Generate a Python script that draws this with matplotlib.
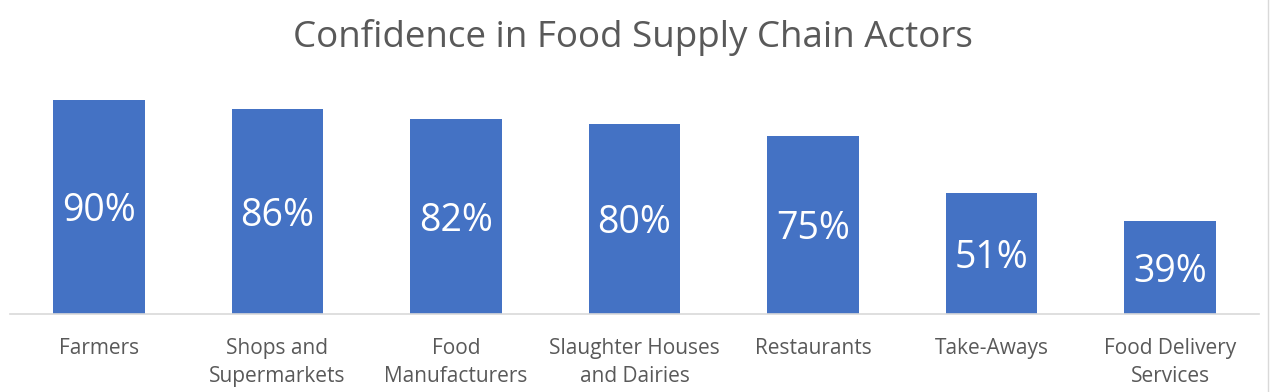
import matplotlib.pyplot as plt
from matplotlib.lines import Line2D

# Data
categories = ["Farmers", "Shops and\nSupermarkets", "Food\nManufacturers",
              "Slaughter Houses\nand Dairies", "Restaurants", "Take-Aways",
              "Food Delivery\nServices"]
confidence = [90, 86, 82, 80, 75, 51, 39]
value_labels = ["90%", "86%", "82%", "80%", "75%", "51%", "39%"]

bar_color = "#4472C4"
text_color = "#595959"

plt.rcParams["font.family"] = ["Open Sans", "DejaVu Sans"]

fig = plt.figure(figsize=(12.74, 3.92), dpi=100)
ax = fig.add_axes([9.75 / 1274, 78 / 392, 1249.5 / 1274, 237 / 392])

x = range(len(categories))
bars = ax.bar(x, confidence, width=0.515, color=bar_color)

for b, lab in zip(bars, value_labels):
    ax.text(b.get_x() + b.get_width() / 2, b.get_height() / 2 - 1.9, lab,
            ha="center", va="center", color="white", fontsize=27)

ax.set_xlim(-0.5, len(categories) - 0.5)
ax.set_ylim(0, 99.6)
ax.set_xticks(list(x))
ax.set_xticklabels(categories, fontsize=15, color=text_color, linespacing=1.45)
ax.tick_params(axis="x", length=0, pad=17)
ax.set_yticks([])
for s in ["top", "right", "left"]:
    ax.spines[s].set_visible(False)
ax.spines["bottom"].set_color("#D9D9D9")
ax.spines["bottom"].set_linewidth(1.2)

fig.text(0.497, 1 - 38 / 392, "Confidence in Food Supply Chain Actors",
         ha="center", va="center", fontsize=26.5, color=text_color)

# light chart border on the right edge
fig.add_artist(Line2D([1268 / 1274, 1268 / 1274], [0, 1], color="#D9D9D9", lw=1))

fig.savefig("out.png", dpi=100)
